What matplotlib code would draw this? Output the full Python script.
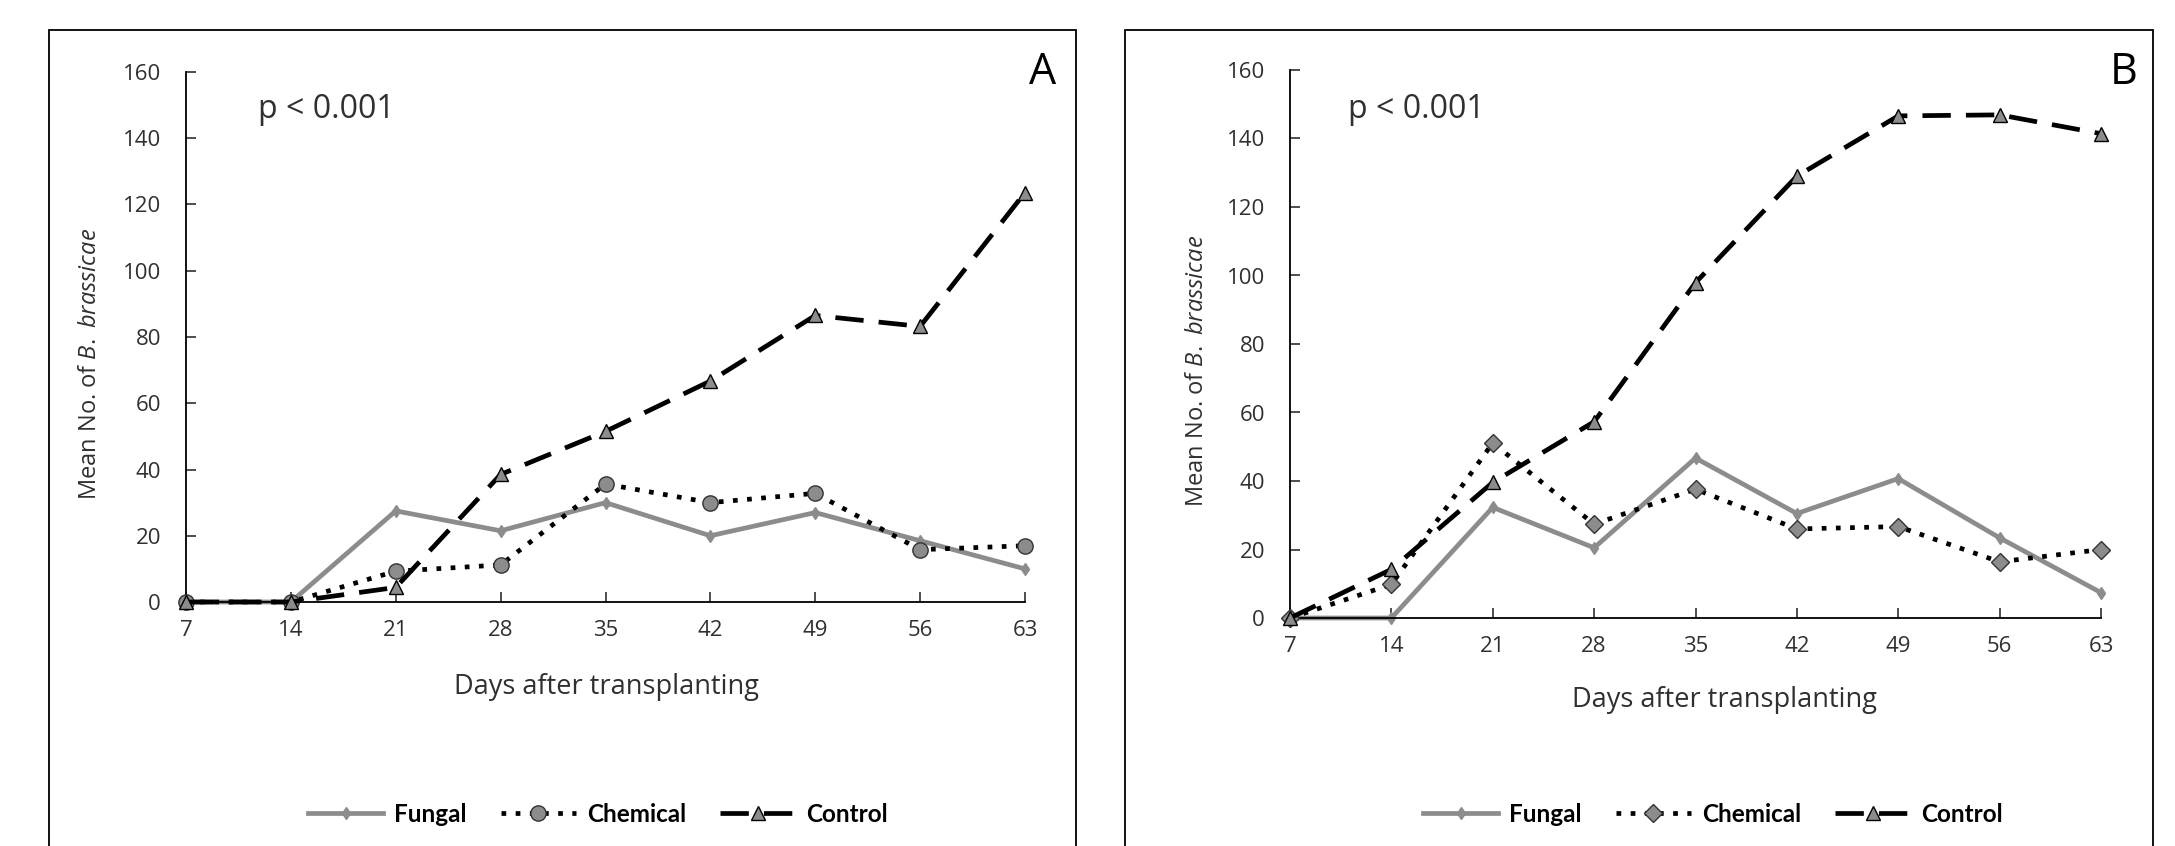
import matplotlib.pyplot as plt
from matplotlib.patches import Rectangle

plt.rcParams["font.family"] = ["Open Sans", "DejaVu Sans"]
plt.rcParams["mathtext.fontset"] = "custom"
plt.rcParams["mathtext.it"] = "Open Sans:italic"
plt.rcParams["mathtext.rm"] = "Open Sans"

days = [7, 14, 21, 28, 35, 42, 49, 56, 63]
yticks = [0, 20, 40, 60, 80, 100, 120, 140, 160]

fungal_a = [0, 0, 27.5, 21.5, 30, 20, 27, 18.5, 10]
chemical_a = [0, 0, 9.3, 11.2, 35.6, 30, 32.8, 15.8, 17]
control_a = [0, 0, 4.4, 38.5, 51.5, 66.7, 86.5, 83.2, 123.6]

fungal_b = [0, 0, 32.3, 20.5, 46.7, 30.5, 40.7, 23.4, 7.4]
chemical_b = [0, 9.8, 51.1, 27.4, 37.6, 26, 26.7, 16.4, 20]
control_b = [0, 14.2, 39.6, 57.3, 97.9, 129, 146.6, 146.9, 141.4]

grey = "#8c8c8c"
dark = "#333333"
txt = "#303030"

W, H = 2175, 846
fig = plt.figure(figsize=(W / 100, H / 100), dpi=100)

# panel frames (open at the bottom, as in the original)
for x0, x1 in [(49, 1076), (1125, 2153)]:
    fig.patches.append(Rectangle((x0 / W, -0.1), (x1 - x0) / W, 1.1 - 30 / H,
                                 transform=fig.transFigure, fill=False,
                                 edgecolor="black", linewidth=1.3))

# axes box in pixels, chemical marker, text positions, legend centre
panels = [
    (186, 1025, 602, 72, fungal_a, chemical_a, control_a, "o", 11, "A",
     606, 687, 258, 1043, 598),
    (1290, 2101, 618, 70, fungal_b, chemical_b, control_b, "D", 9, "B",
     1724, 700, 1348, 2124, 1713),
]

for (x0, x1, y0, y1, fung, chem, ctrl, cm, cms, letter,
     title_x, title_y, p_x, let_x, leg_x) in panels:
    ax = fig.add_axes([x0 / W, 1 - y0 / H, (x1 - x0) / W, (y0 - y1) / H])
    ax.plot(days, fung, color=grey, linewidth=3.4, marker="d", markersize=6,
            markerfacecolor=grey, markeredgecolor=grey, label="Fungal", zorder=2)
    ax.plot(days, chem, color="black", linestyle=(0, (1, 2)), linewidth=3.4,
            marker=cm, markersize=cms, markerfacecolor=grey, markeredgecolor=dark,
            markeredgewidth=1, label="Chemical", zorder=3)
    ax.plot(days, ctrl, color="black", linestyle=(0, (6, 3.2)), linewidth=3.4,
            marker="^", markersize=10, markerfacecolor=grey, markeredgecolor="black",
            markeredgewidth=1, label="Control", zorder=4)

    ax.set_xlim(7, 63)
    ax.set_ylim(0, 160)
    ax.set_xticks(days)
    ax.set_yticks(yticks)
    ax.tick_params(direction="in", length=7, width=1.2, labelsize=16, colors=txt)
    ax.tick_params(axis="x", pad=13)
    ax.tick_params(axis="y", pad=18)
    for s in ["top", "right"]:
        ax.spines[s].set_visible(False)
    for s in ["left", "bottom"]:
        ax.spines[s].set_linewidth(1.3)
    for ln in ax.get_lines():
        ln.set_clip_on(False)

    ax.set_ylabel(r"Mean No. of $\mathit{B.\ brassicae}$", fontsize=17, color=txt)
    ax.yaxis.set_label_coords(-0.1, 0.45)
    fig.text(title_x / W, 1 - title_y / H, "Days after transplanting",
             ha="center", va="center", fontsize=19.5, color=txt)
    fig.text(p_x / W, 1 - 110 / H, "p < 0.001", ha="left", va="center",
             fontsize=23, color=txt)
    fig.text(let_x / W, 1 - 73 / H, letter, ha="center", va="center",
             fontsize=31, color="black")

    ax.legend(loc="center", bbox_to_anchor=((leg_x - x0) / (x1 - x0), -(814 - y0) / (y0 - y1)),
              ncol=3, frameon=False, handlelength=3.1, handletextpad=0.45,
              columnspacing=1.4, prop={"family": "Lato", "size": 17.5, "weight": "bold"})

fig.savefig("out.png", dpi=100)
